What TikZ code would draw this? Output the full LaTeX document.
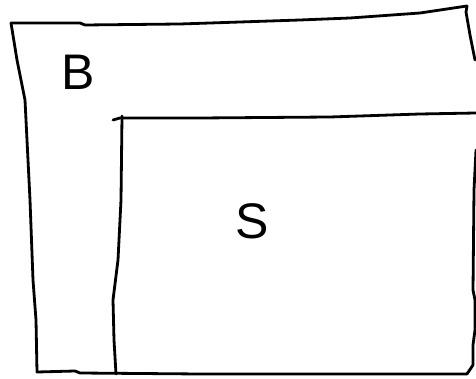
\documentclass[tikz,border=0pt]{standalone}
\usepackage{fontspec}
\setmainfont{Liberation Sans}
\begin{document}
\begin{tikzpicture}[x=1pt,y=-1pt,
  stroke/.style={line width=2.8pt,line join=round,line cap=round,black},
  lbl/.style={font=\fontsize{50}{50}\selectfont,inner sep=0pt}]
\useasboundingbox (0,0) rectangle (476,379);
% outer region B
\draw[stroke] (11,23) -- (80,23) -- (85,25) -- (180,24) -- (300,20) -- (350,18) -- (420,13) -- (467,6)
  -- (466,12) -- (470,35) -- (475,60);
\draw[stroke] (476,150) -- (474,190) -- (473,290) -- (475,300) -- (475,330) -- (473,345) -- (473,365) -- (467,374);
\draw[stroke] (11,23) -- (17,60) -- (25,100) -- (27,140) -- (30,200) -- (33,280) -- (36,320) -- (37,372)
  -- (75,371) -- (80,373) -- (200,374) -- (320,374) -- (467,374);
% inner region S
\draw[stroke] (113,120) -- (120,118) -- (200,118) -- (330,117) -- (420,114) -- (476,113);
\draw[stroke] (122,116) -- (121,200) -- (118,260) -- (113,300) -- (114,340) -- (116,374);
\node[lbl] (B) at (78,72) {B};
\node[lbl] (S) at (252,221) {S};
\end{tikzpicture}
\end{document}
